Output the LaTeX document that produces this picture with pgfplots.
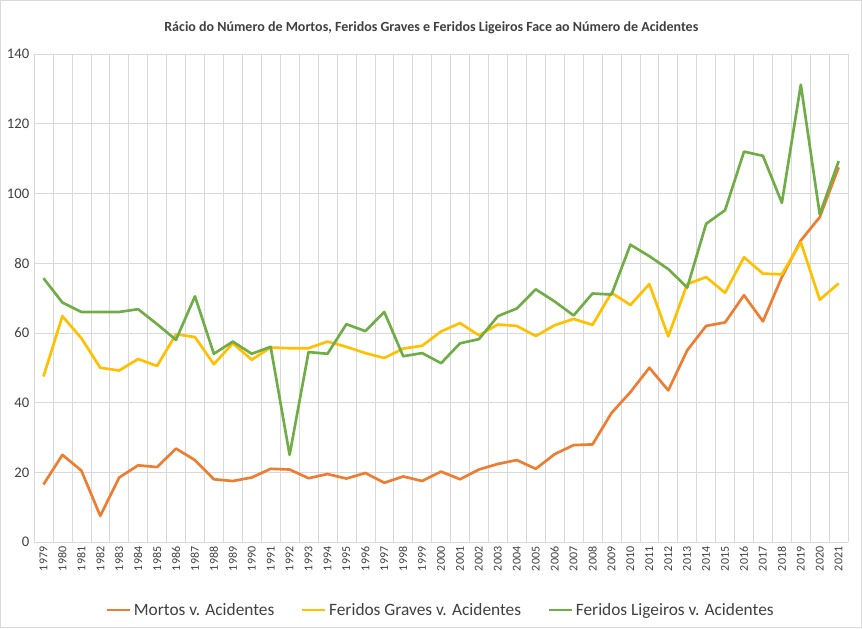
\documentclass[border=0pt]{standalone}
\usepackage{pgfplots}
\pgfplotsset{compat=1.18}
\usepackage{fontspec}
\setmainfont{Carlito}
\definecolor{cM}{HTML}{ED7D31}
\definecolor{cG}{HTML}{FFC000}
\definecolor{cL}{HTML}{70AD47}
\definecolor{gr}{HTML}{D9D9D9}
\begin{document}
\begin{tikzpicture}
\fill[white] (-25.5pt,-64.5pt) rectangle (621pt,406.5pt);
\draw[gr] (-25.2pt,-64.2pt) rectangle (620.7pt,406.2pt);
\node[font=\fontsize{10.5}{12}\selectfont\bfseries, text=black!75] at (298pt,386pt) {Rácio do Número de Mortos, Feridos Graves e Feridos Ligeiros Face ao Número de Acidentes};
\begin{axis}[
 at={(0,0)}, anchor=origin,
 x=14.2pt, y=2.614pt,
 xmin=1978.5, xmax=2021.5, ymin=0, ymax=140,
 xtick={1979,...,2021}, xticklabel style={rotate=90, anchor=east, font=\fontsize{9}{10}\selectfont, text=black!75, /pgf/number format/1000 sep={}},
 minor xtick={1978.5,1979.5,...,2021.5},
 ytick={0,20,...,140}, yticklabel style={font=\fontsize{11}{12}\selectfont, text=black!75},
 /pgf/number format/assume math mode=true,
 ymajorgrids, xminorgrids,
 grid style={gr}, minor grid style={gr},
 axis x line*=bottom, axis y line*=left,
 x axis line style={gr}, y axis line style={draw=none},
 major tick length=0pt, minor tick length=0pt,
 legend style={at={(0.5,-51pt)}, anchor=center, draw=none, fill=none, legend columns=3, font=\fontsize{13}{15}\selectfont, text=black!75, /tikz/every even column/.append style={column sep=18pt}},
 legend cell align=left,
 every axis plot/.append style={line width=2pt, line join=round},
 clip=false,
]
\addplot[cM] coordinates {(1979,16.5)(1980,25)(1981,20.5)(1982,7.5)(1983,18.5)(1984,22)(1985,21.5)(1986,26.8)(1987,23.5)(1988,18)(1989,17.5)(1990,18.5)(1991,21)(1992,20.8)(1993,18.3)(1994,19.5)(1995,18.2)(1996,19.8)(1997,17)(1998,18.8)(1999,17.5)(2000,20.2)(2001,18)(2002,20.8)(2003,22.4)(2004,23.5)(2005,21)(2006,25.2)(2007,27.8)(2008,28)(2009,37)(2010,43)(2011,50)(2012,43.5)(2013,55)(2014,62)(2015,63)(2016,70.8)(2017,63.3)(2018,76)(2019,86.5)(2020,93.2)(2021,107.5)};
\addlegendentry{Mortos v. Acidentes}
\addplot[cG] coordinates {(1979,47.5)(1980,64.8)(1981,58.5)(1982,50)(1983,49.2)(1984,52.5)(1985,50.5)(1986,59.6)(1987,58.8)(1988,51)(1989,57)(1990,52.3)(1991,55.8)(1992,55.6)(1993,55.6)(1994,57.5)(1995,56)(1996,54.2)(1997,52.8)(1998,55.5)(1999,56.3)(2000,60.4)(2001,62.8)(2002,59.3)(2003,62.4)(2004,62)(2005,59.1)(2006,62.2)(2007,64)(2008,62.3)(2009,71.5)(2010,68)(2011,74)(2012,59)(2013,74)(2014,76)(2015,71.5)(2016,81.7)(2017,77)(2018,76.8)(2019,86)(2020,69.5)(2021,74.2)};
\addlegendentry{Feridos Graves v. Acidentes}
\addplot[cL] coordinates {(1979,75.7)(1980,68.7)(1981,66)(1982,66)(1983,66)(1984,66.8)(1985,62.5)(1986,58)(1987,70.5)(1988,54)(1989,57.5)(1990,54)(1991,56)(1992,25)(1993,54.5)(1994,54)(1995,62.5)(1996,60.5)(1997,66)(1998,53.3)(1999,54.2)(2000,51.3)(2001,57)(2002,58.2)(2003,64.8)(2004,67)(2005,72.5)(2006,69)(2007,65)(2008,71.3)(2009,71)(2010,85.3)(2011,82)(2012,78.3)(2013,73)(2014,91.3)(2015,95.2)(2016,112)(2017,110.8)(2018,97.3)(2019,131.2)(2020,94)(2021,109.3)};
\addlegendentry{Feridos Ligeiros v. Acidentes}
\end{axis}
\end{tikzpicture}
\end{document}
